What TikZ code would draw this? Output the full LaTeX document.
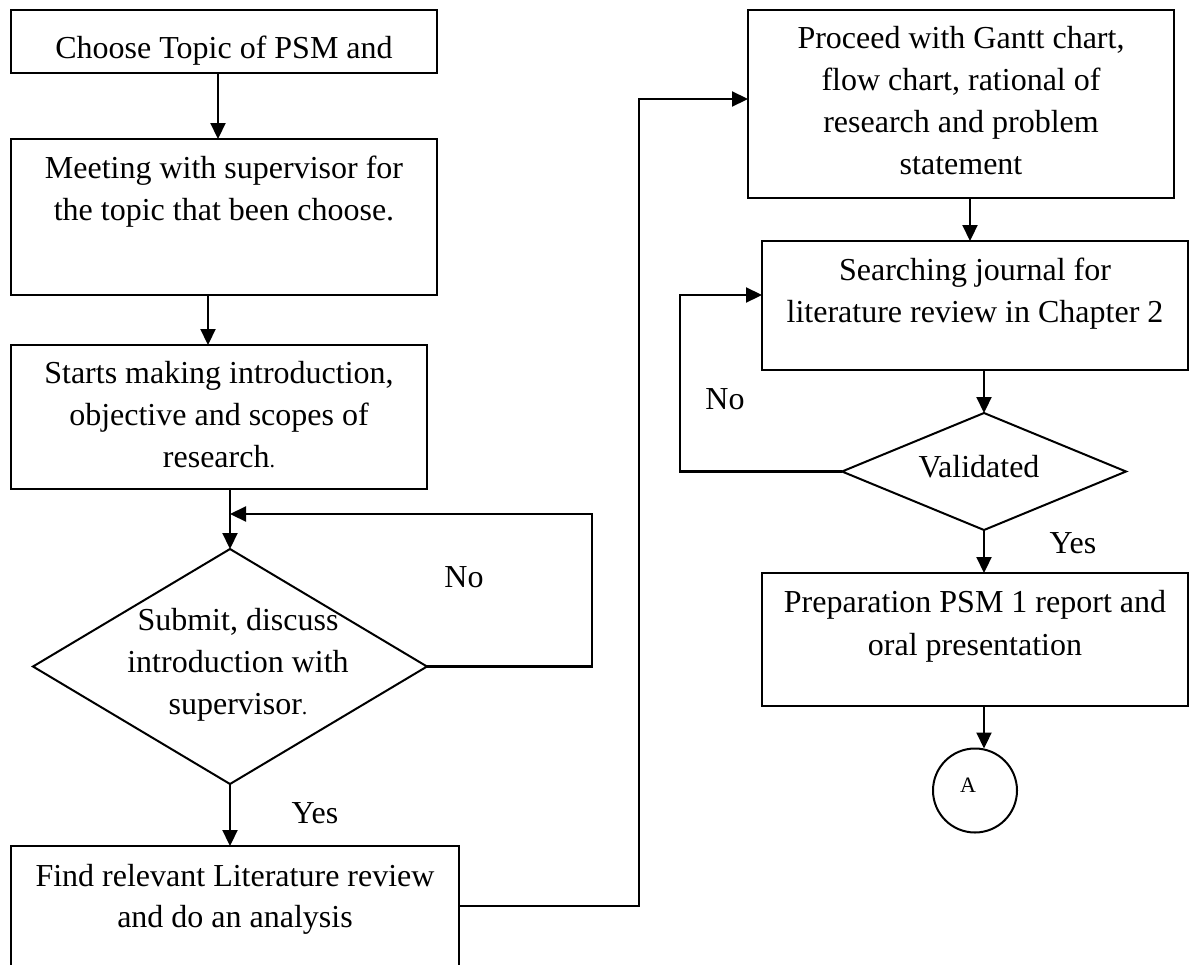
\documentclass[tikz,border=0pt]{standalone}
\usepackage{fontspec}
\setmainfont{Liberation Serif}
\usetikzlibrary{shapes.geometric,arrows.meta,calc}
\begin{document}
\begin{tikzpicture}[x=1pt,y=-1pt,
  box/.style={draw,line width=2.1pt,rectangle,inner sep=0pt,outer sep=0pt},
  dec/.style={draw,line width=2pt,diamond,inner sep=0pt,outer sep=0pt},
  conn/.style={draw,line width=2pt,circle,inner sep=0pt,outer sep=0pt,minimum size=84pt},
  txt/.style={anchor=base,inner sep=0pt,font=\fontsize{32}{40}\selectfont},
  small/.style={anchor=base,inner sep=0pt,font=\fontsize{22}{26}\selectfont},
  arr/.style={line width=2.2pt,-{Triangle[length=16pt,width=15pt]}},
]
\useasboundingbox (0,0) rectangle (1191,964);
\clip (0,0) rectangle (1191,964);

% boxes
\node[box,minimum width=426pt,minimum height=63pt]  (b1) at (224,41.5) {};
\node[box,minimum width=426pt,minimum height=156pt] (b2) at (224,217) {};
\node[box,minimum width=416pt,minimum height=144pt] (b3) at (219,417) {};
\node[dec,minimum width=394pt,minimum height=235pt] (d1) at (230,666.5) {};
\node[box,minimum width=448pt,minimum height=164pt] (b5) at (235,928) {};
\node[box,minimum width=426pt,minimum height=188pt] (p)  at (961,104) {};
\node[box,minimum width=426pt,minimum height=129pt] (s)  at (975,305.5) {};
\node[dec,minimum width=284pt,minimum height=117pt] (d2) at (984,471.5) {};
\node[box,minimum width=426pt,minimum height=133pt] (pr) at (975,639.5) {};
\node[conn] (cA) at (975,790.5) {};

% texts
\node[txt] (t1)  at (224,58)  {Choose Topic of PSM and};
\node[txt] (t2a) at (224,178) {Meeting with supervisor for};
\node[txt] (t2b) at (224,220) {the topic that been choose.};
\node[txt] (t3a) at (219,383) {Starts making introduction,};
\node[txt] (t3b) at (219,425) {objective and scopes of};
\node[txt] (t3c) at (219,467) {research{\fontsize{22}{26}\selectfont.}};
\node[txt] (t4a) at (238,630) {Submit, discuss};
\node[txt] (t4b) at (238,672) {introduction with};
\node[txt] (t4c) at (238,714) {supervisor{\fontsize{22}{26}\selectfont.}};
\node[txt] (no1) at (464,587) {No};
\node[txt] (ye1) at (315,823) {Yes};
\node[txt] (t5a) at (235,886) {Find relevant Literature review};
\node[txt] (t5b) at (235,927) {and do an analysis};
\node[txt] (t6a) at (961,48)  {Proceed with Gantt chart,};
\node[txt] (t6b) at (961,90)  {flow chart, rational of};
\node[txt] (t6c) at (961,132) {research and problem};
\node[txt] (t6d) at (961,174) {statement};
\node[txt] (t7a) at (975,280) {Searching journal for};
\node[txt] (t7b) at (975,322) {literature review in Chapter 2};
\node[txt] (t8)  at (979,477) {Validated};
\node[txt] (no2) at (725,409) {No};
\node[txt] (ye2) at (1073,553) {Yes};
\node[txt] (t9a) at (975,612) {Preparation PSM 1 report and};
\node[txt] (t9b) at (975,655) {oral presentation};
\node[small] (tA) at (968,792) {A};

% helper coordinates
\coordinate (j1) at (230,514);
\coordinate (n1) at (592,514);
\coordinate (k1) at (459,906);
\coordinate (k2) at (639,99);
\coordinate (n2) at (680,295);

% connectors
\draw[arr] ([xshift=-6pt]b1.south) -- ([xshift=-6pt]b1.south |- b2.north);
\draw[arr] ([xshift=-16pt]b2.south) -- ([xshift=-16pt]b2.south |- b3.north);
\draw[arr] (d1.north |- b3.south) -- (d1.north);
\draw[arr] (d1.east) -| (n1) -- (j1);
\draw[arr] (d1.south) -- (d1.south |- b5.north);
\draw[arr] (k1) -| (k2) -- (p.west |- k2);
\draw[arr] ([xshift=9pt]p.south) -- ([xshift=9pt]p.south |- s.north);
\draw[arr] (d2.north |- s.south) -- (d2.north);
\draw[arr] (d2.west) -| (n2) -- (s.west |- n2);
\draw[arr] (d2.south) -- (d2.south |- pr.north);
\draw[arr] (d2.south |- pr.south) -- ([xshift=9pt]cA.north);
\end{tikzpicture}
\end{document}
